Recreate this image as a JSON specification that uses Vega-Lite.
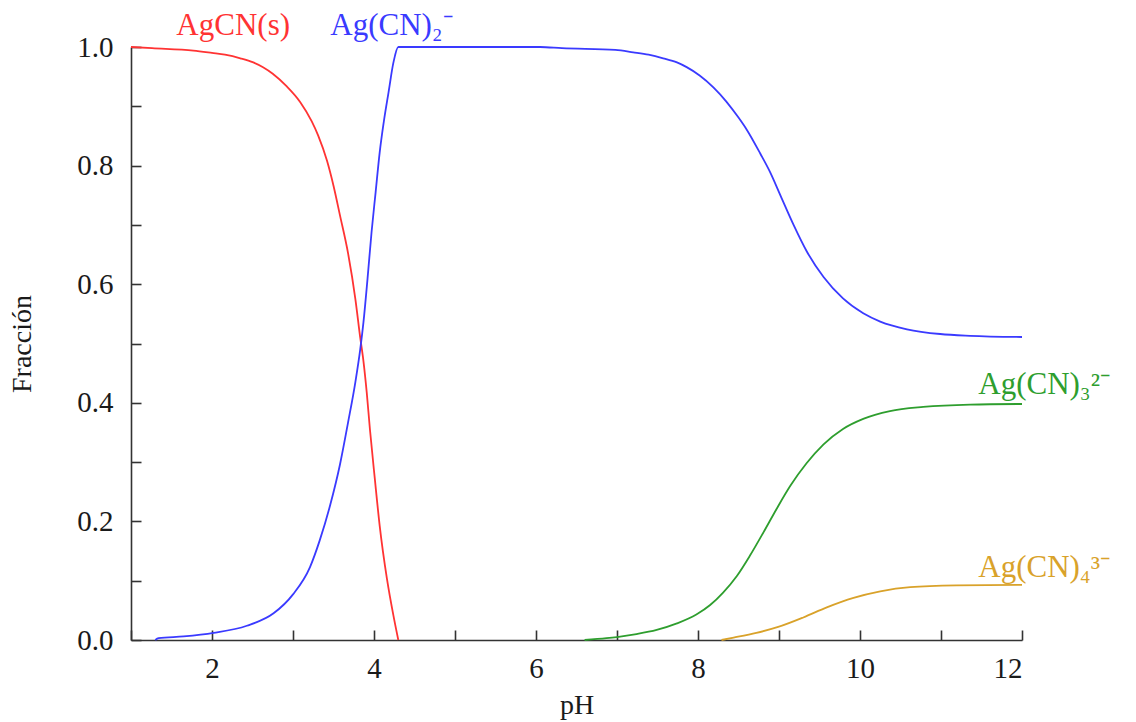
{
  "$schema": "https://vega.github.io/schema/vega-lite/v6.json",
  "width": 891,
  "height": 593,
  "autosize": {"type": "none"},
  "padding": {"left": 131, "top": 47, "right": 114, "bottom": 82},
  "background": "white",
  "config": {
    "view": {"stroke": null},
    "axis": {
      "grid": false,
      "domainColor": "#333333",
      "domainWidth": 1.6,
      "tickColor": "#333333",
      "tickWidth": 1.6,
      "tickSize": -10,
      "labelFont": "Liberation Serif",
      "labelFontSize": 29,
      "labelColor": "#1a1a1a",
      "titleFont": "Liberation Serif",
      "titleFontSize": 28,
      "titleFontWeight": "normal",
      "titleColor": "#1a1a1a"
    }
  },
  "datasets": {
    "curves": [
      {"species": "AgCN(s)", "pH": 1.0, "frac": 1.0},
      {"species": "AgCN(s)", "pH": 1.26, "frac": 0.998},
      {"species": "AgCN(s)", "pH": 1.77, "frac": 0.994},
      {"species": "AgCN(s)", "pH": 2.0, "frac": 0.99},
      {"species": "AgCN(s)", "pH": 2.16, "frac": 0.987},
      {"species": "AgCN(s)", "pH": 2.35, "frac": 0.981},
      {"species": "AgCN(s)", "pH": 2.51, "frac": 0.974},
      {"species": "AgCN(s)", "pH": 2.63, "frac": 0.966},
      {"species": "AgCN(s)", "pH": 2.75, "frac": 0.955},
      {"species": "AgCN(s)", "pH": 2.92, "frac": 0.934},
      {"species": "AgCN(s)", "pH": 3.09, "frac": 0.907},
      {"species": "AgCN(s)", "pH": 3.23, "frac": 0.875},
      {"species": "AgCN(s)", "pH": 3.31, "frac": 0.851},
      {"species": "AgCN(s)", "pH": 3.42, "frac": 0.808},
      {"species": "AgCN(s)", "pH": 3.5, "frac": 0.766},
      {"species": "AgCN(s)", "pH": 3.58, "frac": 0.716},
      {"species": "AgCN(s)", "pH": 3.68, "frac": 0.652},
      {"species": "AgCN(s)", "pH": 3.77, "frac": 0.575},
      {"species": "AgCN(s)", "pH": 3.83, "frac": 0.51},
      {"species": "AgCN(s)", "pH": 3.87, "frac": 0.47},
      {"species": "AgCN(s)", "pH": 3.91, "frac": 0.418},
      {"species": "AgCN(s)", "pH": 3.95, "frac": 0.355},
      {"species": "AgCN(s)", "pH": 4.01, "frac": 0.272},
      {"species": "AgCN(s)", "pH": 4.07, "frac": 0.193},
      {"species": "AgCN(s)", "pH": 4.16, "frac": 0.103},
      {"species": "AgCN(s)", "pH": 4.24, "frac": 0.041},
      {"species": "AgCN(s)", "pH": 4.3, "frac": 0.0},

      {"species": "Ag(CN)2-", "pH": 1.3, "frac": 0.0},
      {"species": "Ag(CN)2-", "pH": 1.34, "frac": 0.003},
      {"species": "Ag(CN)2-", "pH": 1.65, "frac": 0.006},
      {"species": "Ag(CN)2-", "pH": 2.02, "frac": 0.012},
      {"species": "Ag(CN)2-", "pH": 2.43, "frac": 0.024},
      {"species": "Ag(CN)2-", "pH": 2.76, "frac": 0.045},
      {"species": "Ag(CN)2-", "pH": 3.0, "frac": 0.077},
      {"species": "Ag(CN)2-", "pH": 3.21, "frac": 0.123},
      {"species": "Ag(CN)2-", "pH": 3.33, "frac": 0.168},
      {"species": "Ag(CN)2-", "pH": 3.46, "frac": 0.228},
      {"species": "Ag(CN)2-", "pH": 3.58, "frac": 0.296},
      {"species": "Ag(CN)2-", "pH": 3.68, "frac": 0.367},
      {"species": "Ag(CN)2-", "pH": 3.77, "frac": 0.435},
      {"species": "Ag(CN)2-", "pH": 3.83, "frac": 0.49},
      {"species": "Ag(CN)2-", "pH": 3.87, "frac": 0.536},
      {"species": "Ag(CN)2-", "pH": 3.92, "frac": 0.609},
      {"species": "Ag(CN)2-", "pH": 3.97, "frac": 0.688},
      {"species": "Ag(CN)2-", "pH": 4.02, "frac": 0.755},
      {"species": "Ag(CN)2-", "pH": 4.07, "frac": 0.822},
      {"species": "Ag(CN)2-", "pH": 4.12, "frac": 0.873},
      {"species": "Ag(CN)2-", "pH": 4.18, "frac": 0.924},
      {"species": "Ag(CN)2-", "pH": 4.24, "frac": 0.974},
      {"species": "Ag(CN)2-", "pH": 4.3, "frac": 1.0},
      {"species": "Ag(CN)2-", "pH": 5.0, "frac": 1.0},
      {"species": "Ag(CN)2-", "pH": 6.05, "frac": 1.0},
      {"species": "Ag(CN)2-", "pH": 6.32, "frac": 0.998},
      {"species": "Ag(CN)2-", "pH": 6.98, "frac": 0.995},
      {"species": "Ag(CN)2-", "pH": 7.2, "frac": 0.991},
      {"species": "Ag(CN)2-", "pH": 7.39, "frac": 0.987},
      {"species": "Ag(CN)2-", "pH": 7.57, "frac": 0.981},
      {"species": "Ag(CN)2-", "pH": 7.74, "frac": 0.974},
      {"species": "Ag(CN)2-", "pH": 7.86, "frac": 0.966},
      {"species": "Ag(CN)2-", "pH": 8.02, "frac": 0.952},
      {"species": "Ag(CN)2-", "pH": 8.19, "frac": 0.932},
      {"species": "Ag(CN)2-", "pH": 8.35, "frac": 0.908},
      {"species": "Ag(CN)2-", "pH": 8.5, "frac": 0.881},
      {"species": "Ag(CN)2-", "pH": 8.6, "frac": 0.861},
      {"species": "Ag(CN)2-", "pH": 8.77, "frac": 0.82},
      {"species": "Ag(CN)2-", "pH": 8.89, "frac": 0.789},
      {"species": "Ag(CN)2-", "pH": 9.02, "frac": 0.749},
      {"species": "Ag(CN)2-", "pH": 9.18, "frac": 0.7},
      {"species": "Ag(CN)2-", "pH": 9.34, "frac": 0.656},
      {"species": "Ag(CN)2-", "pH": 9.55, "frac": 0.612},
      {"species": "Ag(CN)2-", "pH": 9.79, "frac": 0.576},
      {"species": "Ag(CN)2-", "pH": 10.04, "frac": 0.551},
      {"species": "Ag(CN)2-", "pH": 10.25, "frac": 0.537},
      {"species": "Ag(CN)2-", "pH": 10.58, "frac": 0.524},
      {"species": "Ag(CN)2-", "pH": 10.99, "frac": 0.516},
      {"species": "Ag(CN)2-", "pH": 11.36, "frac": 0.513},
      {"species": "Ag(CN)2-", "pH": 12.0, "frac": 0.511},

      {"species": "Ag(CN)3 2-", "pH": 6.6, "frac": 0.0},
      {"species": "Ag(CN)3 2-", "pH": 6.87, "frac": 0.003},
      {"species": "Ag(CN)3 2-", "pH": 7.0, "frac": 0.005},
      {"species": "Ag(CN)3 2-", "pH": 7.24, "frac": 0.01},
      {"species": "Ag(CN)3 2-", "pH": 7.49, "frac": 0.017},
      {"species": "Ag(CN)3 2-", "pH": 7.74, "frac": 0.028},
      {"species": "Ag(CN)3 2-", "pH": 7.98, "frac": 0.043},
      {"species": "Ag(CN)3 2-", "pH": 8.15, "frac": 0.059},
      {"species": "Ag(CN)3 2-", "pH": 8.31, "frac": 0.08},
      {"species": "Ag(CN)3 2-", "pH": 8.48, "frac": 0.108},
      {"species": "Ag(CN)3 2-", "pH": 8.64, "frac": 0.142},
      {"species": "Ag(CN)3 2-", "pH": 8.81, "frac": 0.182},
      {"species": "Ag(CN)3 2-", "pH": 8.97, "frac": 0.221},
      {"species": "Ag(CN)3 2-", "pH": 9.14, "frac": 0.26},
      {"species": "Ag(CN)3 2-", "pH": 9.34, "frac": 0.298},
      {"species": "Ag(CN)3 2-", "pH": 9.55, "frac": 0.33},
      {"species": "Ag(CN)3 2-", "pH": 9.79, "frac": 0.356},
      {"species": "Ag(CN)3 2-", "pH": 10.04, "frac": 0.373},
      {"species": "Ag(CN)3 2-", "pH": 10.37, "frac": 0.386},
      {"species": "Ag(CN)3 2-", "pH": 10.78, "frac": 0.393},
      {"species": "Ag(CN)3 2-", "pH": 11.36, "frac": 0.397},
      {"species": "Ag(CN)3 2-", "pH": 12.0, "frac": 0.398},

      {"species": "Ag(CN)4 3-", "pH": 8.29, "frac": 0.0},
      {"species": "Ag(CN)4 3-", "pH": 8.44, "frac": 0.004},
      {"species": "Ag(CN)4 3-", "pH": 8.72, "frac": 0.012},
      {"species": "Ag(CN)4 3-", "pH": 8.99, "frac": 0.022},
      {"species": "Ag(CN)4 3-", "pH": 9.3, "frac": 0.038},
      {"species": "Ag(CN)4 3-", "pH": 9.59, "frac": 0.055},
      {"species": "Ag(CN)4 3-", "pH": 9.92, "frac": 0.071},
      {"species": "Ag(CN)4 3-", "pH": 10.25, "frac": 0.082},
      {"species": "Ag(CN)4 3-", "pH": 10.62, "frac": 0.089},
      {"species": "Ag(CN)4 3-", "pH": 11.19, "frac": 0.092},
      {"species": "Ag(CN)4 3-", "pH": 12.0, "frac": 0.093}
    ],
    "labels": [
      {"species": "AgCN(s)", "text": "AgCN(s)", "pH": 1.56, "frac": 1.02},
      {"species": "Ag(CN)2-", "text": "Ag(CN)₂⁻", "pH": 3.46, "frac": 1.02},
      {"species": "Ag(CN)3 2-", "text": "Ag(CN)₃²⁻", "pH": 11.46, "frac": 0.415},
      {"species": "Ag(CN)4 3-", "text": "Ag(CN)₄³⁻", "pH": 11.46, "frac": 0.106}
    ]
  },
  "layer": [
    {
      "data": {"name": "curves"},
      "mark": {"type": "line", "strokeWidth": 1.8, "interpolate": "monotone"},
      "encoding": {
        "x": {
          "field": "pH", "type": "quantitative",
          "scale": {"domain": [1, 12], "nice": false, "zero": false},
          "axis": {
            "title": "pH",
            "values": [1, 2, 3, 4, 5, 6, 7, 8, 9, 10, 11, 12],
            "format": "d",
            "labelExpr": "datum.value % 2 == 0 ? datum.label : ''",
            "labelFont": "Liberation Serif",
            "titleFont": "Liberation Serif",
            "labelPadding": 24,
            "titlePadding": 8
          }
        },
        "y": {
          "field": "frac", "type": "quantitative",
          "scale": {"domain": [0, 1], "nice": false},
          "axis": {
            "title": "Fracción",
            "values": [0, 0.1, 0.2, 0.3, 0.4, 0.5, 0.6, 0.7, 0.8, 0.9, 1.0],
            "labelExpr": "round(datum.value * 10) % 2 == 0 ? format(datum.value, '.1f') : ''",
            "labelFont": "Liberation Serif",
            "titleFont": "Liberation Serif",
            "labelPadding": 28,
            "titlePadding": 40
          }
        },
        "color": {
          "field": "species", "type": "nominal", "legend": null,
          "scale": {
            "domain": ["AgCN(s)", "Ag(CN)2-", "Ag(CN)3 2-", "Ag(CN)4 3-"],
            "range": ["#ff3333", "#3a3aff", "#2e9e2e", "#d9a22a"]
          }
        },
        "detail": {"field": "species"},
        "order": {"field": "pH", "type": "quantitative"}
      }
    },
    {
      "data": {"name": "labels"},
      "mark": {"type": "text", "align": "left", "baseline": "alphabetic", "font": "Liberation Serif", "fontSize": 31},
      "encoding": {
        "x": {"field": "pH", "type": "quantitative"},
        "y": {"field": "frac", "type": "quantitative"},
        "text": {"field": "text"},
        "color": {"field": "species", "type": "nominal", "legend": null}
      }
    }
  ]
}
